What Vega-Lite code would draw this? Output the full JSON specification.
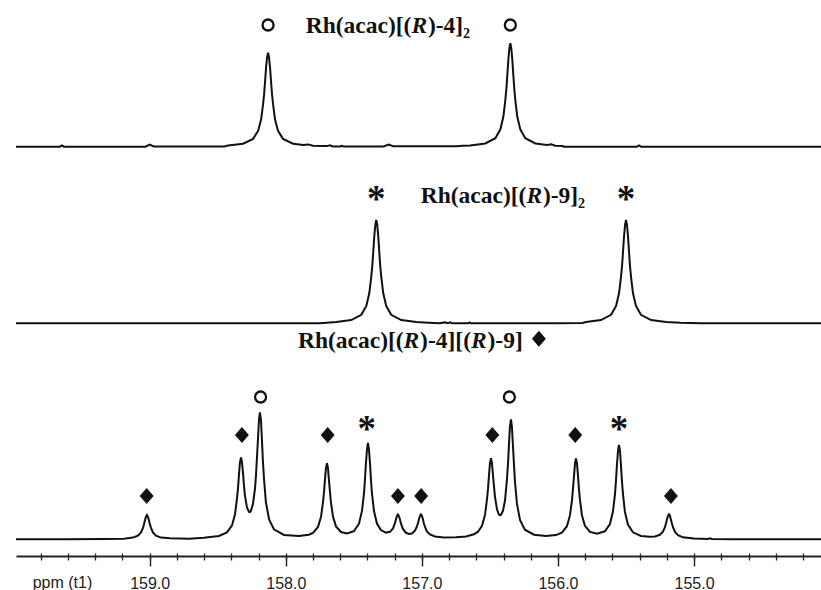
{
  "$schema": "https://vega.github.io/schema/vega-lite/v6.json",
  "padding": {"left": 12, "right": 0, "top": 0, "bottom": 0},
  "background": "white",
  "spacing": 0,
  "bounds": "flush",
  "config": {"view": {"stroke": null}, "concat": {"spacing": 0}},
  "datasets": {
    "top": [
      {"ppm":159.982,"i":0},{"ppm":159.66,"i":0},{"ppm":159.645,"i":1.3},{"ppm":159.63,"i":0},
      {"ppm":159.03,"i":0},{"ppm":159.0,"i":2},{"ppm":158.97,"i":0.3},{"ppm":158.45,"i":0.3},
      {"ppm":158.424,"i":1.2},{"ppm":158.314,"i":2.95},{"ppm":158.24,"i":7.8},{"ppm":158.203,"i":15.8},
      {"ppm":158.181,"i":27.4},{"ppm":158.167,"i":42},{"ppm":158.159,"i":52.5},{"ppm":158.152,"i":65},
      {"ppm":158.145,"i":78.5},{"ppm":158.137,"i":89.6},{"ppm":158.13,"i":94},{"ppm":158.123,"i":89.6},
      {"ppm":158.115,"i":78.5},{"ppm":158.108,"i":65},{"ppm":158.101,"i":52.5},{"ppm":158.093,"i":42},
      {"ppm":158.079,"i":27.4},{"ppm":158.057,"i":15.8},{"ppm":158.02,"i":7.8},{"ppm":157.946,"i":2.95},
      {"ppm":157.87,"i":1.6},{"ppm":157.836,"i":2.3},{"ppm":157.80,"i":1.0},{"ppm":157.70,"i":0.6},
      {"ppm":157.675,"i":1.4},{"ppm":157.655,"i":0.3},{"ppm":157.60,"i":0.2},{"ppm":157.59,"i":0.9},
      {"ppm":157.575,"i":0.2},{"ppm":157.28,"i":0.3},{"ppm":157.245,"i":2.2},{"ppm":157.21,"i":0.5},
      {"ppm":156.75,"i":0.5},{"ppm":156.70,"i":1.0},{"ppm":156.644,"i":1.3},{"ppm":156.534,"i":3.25},
      {"ppm":156.46,"i":8.5},{"ppm":156.423,"i":17.4},{"ppm":156.401,"i":30.2},{"ppm":156.387,"i":46.2},
      {"ppm":156.379,"i":57.8},{"ppm":156.372,"i":71.6},{"ppm":156.365,"i":86.3},{"ppm":156.357,"i":98.5},
      {"ppm":156.35,"i":103.4},{"ppm":156.343,"i":98.5},{"ppm":156.335,"i":86.3},{"ppm":156.328,"i":71.6},
      {"ppm":156.321,"i":57.8},{"ppm":156.313,"i":46.2},{"ppm":156.299,"i":30.2},{"ppm":156.277,"i":17.4},
      {"ppm":156.24,"i":8.5},{"ppm":156.166,"i":3.25},{"ppm":156.08,"i":1.6},{"ppm":156.05,"i":2.4},
      {"ppm":156.02,"i":1.0},{"ppm":155.965,"i":0.6},{"ppm":155.955,"i":0},{"ppm":155.42,"i":0},
      {"ppm":155.405,"i":1.2},{"ppm":155.39,"i":0},{"ppm":154.038,"i":0}
    ],
    "mid": [
      {"ppm":159.982,"i":0},{"ppm":157.75,"i":0},{"ppm":157.629,"i":1.29},{"ppm":157.519,"i":3.24},
      {"ppm":157.445,"i":8.5},{"ppm":157.408,"i":17.4},{"ppm":157.386,"i":30.2},{"ppm":157.372,"i":46.2},
      {"ppm":157.364,"i":57.7},{"ppm":157.357,"i":71.5},{"ppm":157.35,"i":86.3},{"ppm":157.342,"i":98.4},
      {"ppm":157.335,"i":103.3},{"ppm":157.328,"i":98.4},{"ppm":157.32,"i":86.3},{"ppm":157.313,"i":71.5},
      {"ppm":157.306,"i":57.7},{"ppm":157.298,"i":46.2},{"ppm":157.284,"i":30.2},{"ppm":157.262,"i":17.4},
      {"ppm":157.225,"i":8.5},{"ppm":157.151,"i":3.24},{"ppm":157.041,"i":1.29},{"ppm":156.95,"i":0.6},
      {"ppm":156.87,"i":0},{"ppm":156.83,"i":0.9},{"ppm":156.81,"i":0},{"ppm":156.79,"i":0.9},
      {"ppm":156.78,"i":0},{"ppm":156.66,"i":0},{"ppm":156.65,"i":0.9},{"ppm":156.64,"i":0},
      {"ppm":156.0,"i":0},{"ppm":155.82,"i":0.3},{"ppm":155.794,"i":1.29},{"ppm":155.684,"i":3.24},
      {"ppm":155.61,"i":8.5},{"ppm":155.573,"i":17.4},{"ppm":155.551,"i":30.2},{"ppm":155.537,"i":46.2},
      {"ppm":155.529,"i":57.7},{"ppm":155.522,"i":71.5},{"ppm":155.515,"i":86.3},{"ppm":155.507,"i":98.4},
      {"ppm":155.50,"i":103.3},{"ppm":155.493,"i":98.4},{"ppm":155.485,"i":86.3},{"ppm":155.478,"i":71.5},
      {"ppm":155.471,"i":57.7},{"ppm":155.463,"i":46.2},{"ppm":155.449,"i":30.2},{"ppm":155.427,"i":17.4},
      {"ppm":155.39,"i":8.5},{"ppm":155.316,"i":3.24},{"ppm":155.206,"i":1.29},{"ppm":155.10,"i":0.5},
      {"ppm":154.95,"i":0},{"ppm":154.038,"i":0}
    ],
    "bot": [
      {"ppm":159.982,"i":0},{"ppm":159.630,"i":0},{"ppm":159.336,"i":0.2},{"ppm":159.189,"i":0.6},
      {"ppm":159.123,"i":1.7},{"ppm":159.086,"i":3.7},{"ppm":159.064,"i":6.9},{"ppm":159.049,"i":11.5},
      {"ppm":159.042,"i":14.9},{"ppm":159.035,"i":18.9},{"ppm":159.027,"i":22.6},{"ppm":159.020,"i":24.3},
      {"ppm":159.013,"i":22.6},{"ppm":159.005,"i":18.9},{"ppm":158.998,"i":14.9},{"ppm":158.990,"i":11.5},
      {"ppm":158.976,"i":6.9},{"ppm":158.954,"i":3.7},{"ppm":158.917,"i":1.7},{"ppm":158.851,"i":1.0},
      {"ppm":158.711,"i":0.6},{"ppm":158.601,"i":1.5},{"ppm":158.491,"i":3.3},{"ppm":158.432,"i":6.9},
      {"ppm":158.395,"i":13.9},{"ppm":158.373,"i":24.8},{"ppm":158.359,"i":39.8},{"ppm":158.351,"i":51.0},
      {"ppm":158.344,"i":64.2},{"ppm":158.337,"i":76.3},{"ppm":158.329,"i":81.8},{"ppm":158.322,"i":77.3},
      {"ppm":158.314,"i":66.2},{"ppm":158.307,"i":54.0},{"ppm":158.300,"i":44.0},{"ppm":158.285,"i":31.8},
      {"ppm":158.270,"i":27.4},{"ppm":158.263,"i":27.2},{"ppm":158.256,"i":28.4},{"ppm":158.241,"i":35.3},
      {"ppm":158.226,"i":50.7},{"ppm":158.219,"i":63.4},{"ppm":158.212,"i":80.5},{"ppm":158.204,"i":100.8},
      {"ppm":158.197,"i":119.3},{"ppm":158.190,"i":126.9},{"ppm":158.182,"i":118.7},{"ppm":158.175,"i":99.5},
      {"ppm":158.168,"i":78.6},{"ppm":158.160,"i":60.8},{"ppm":158.146,"i":37.2},{"ppm":158.123,"i":20.1},
      {"ppm":158.087,"i":9.9},{"ppm":158.013,"i":4.4},{"ppm":157.903,"i":3.2},{"ppm":157.830,"i":4.6},
      {"ppm":157.800,"i":6.4},{"ppm":157.763,"i":12.4},{"ppm":157.741,"i":22.4},{"ppm":157.727,"i":36.5},
      {"ppm":157.719,"i":47.1},{"ppm":157.712,"i":59.5},{"ppm":157.705,"i":70.9},{"ppm":157.697,"i":76.0},
      {"ppm":157.690,"i":71.2},{"ppm":157.683,"i":59.8},{"ppm":157.675,"i":47.4},{"ppm":157.668,"i":36.9},
      {"ppm":157.653,"i":22.7},{"ppm":157.631,"i":12.9},{"ppm":157.594,"i":7.3},{"ppm":157.550,"i":5.9},
      {"ppm":157.499,"i":8.2},{"ppm":157.462,"i":15.6},{"ppm":157.440,"i":28.4},{"ppm":157.425,"i":46.3},
      {"ppm":157.418,"i":59.8},{"ppm":157.411,"i":75.7},{"ppm":157.403,"i":90.2},{"ppm":157.396,"i":96.4},
      {"ppm":157.389,"i":90.2},{"ppm":157.381,"i":75.7},{"ppm":157.374,"i":59.8},{"ppm":157.367,"i":46.3},
      {"ppm":157.352,"i":28.5},{"ppm":157.330,"i":15.7},{"ppm":157.301,"i":9.2},{"ppm":157.264,"i":6.7},
      {"ppm":157.234,"i":7.5},{"ppm":157.212,"i":10.9},{"ppm":157.198,"i":16.2},{"ppm":157.190,"i":19.9},
      {"ppm":157.183,"i":23.3},{"ppm":157.176,"i":24.7},{"ppm":157.168,"i":23.2},{"ppm":157.161,"i":19.7},
      {"ppm":157.154,"i":15.9},{"ppm":157.139,"i":10.4},{"ppm":157.117,"i":6.5},{"ppm":157.095,"i":5.4},
      {"ppm":157.073,"i":5.8},{"ppm":157.051,"i":8.7},{"ppm":157.036,"i":12.8},{"ppm":157.029,"i":16.1},
      {"ppm":157.021,"i":20.0},{"ppm":157.014,"i":23.5},{"ppm":157.007,"i":24.9},{"ppm":156.999,"i":23.4},
      {"ppm":156.992,"i":19.8},{"ppm":156.985,"i":15.7},{"ppm":156.977,"i":12.4},{"ppm":156.963,"i":7.9},
      {"ppm":156.941,"i":4.8},{"ppm":156.904,"i":2.8},{"ppm":156.838,"i":1.9},{"ppm":156.749,"i":2.0},
      {"ppm":156.676,"i":2.8},{"ppm":156.617,"i":5.0},{"ppm":156.588,"i":7.6},{"ppm":156.558,"i":13.6},
      {"ppm":156.536,"i":24.4},{"ppm":156.522,"i":39.3},{"ppm":156.514,"i":50.4},{"ppm":156.507,"i":63.4},
      {"ppm":156.500,"i":75.5},{"ppm":156.492,"i":81.1},{"ppm":156.485,"i":76.3},{"ppm":156.478,"i":65.1},
      {"ppm":156.470,"i":52.9},{"ppm":156.463,"i":42.7},{"ppm":156.448,"i":30.0},{"ppm":156.434,"i":24.8},
      {"ppm":156.426,"i":24.1},{"ppm":156.419,"i":24.4},{"ppm":156.404,"i":28.5},{"ppm":156.389,"i":38.8},
      {"ppm":156.375,"i":59.6},{"ppm":156.367,"i":75.8},{"ppm":156.360,"i":94.9},{"ppm":156.353,"i":112.4},
      {"ppm":156.345,"i":119.9},{"ppm":156.338,"i":112.1},{"ppm":156.331,"i":94.1},{"ppm":156.323,"i":74.4},
      {"ppm":156.316,"i":57.7},{"ppm":156.301,"i":35.4},{"ppm":156.279,"i":19.4},{"ppm":156.243,"i":9.6},
      {"ppm":156.176,"i":4.6},{"ppm":156.088,"i":3.2},{"ppm":156.015,"i":4.2},{"ppm":155.971,"i":6.7},
      {"ppm":155.934,"i":13.1},{"ppm":155.912,"i":23.9},{"ppm":155.897,"i":38.9},{"ppm":155.890,"i":50.2},
      {"ppm":155.882,"i":63.5},{"ppm":155.875,"i":75.6},{"ppm":155.868,"i":80.9},{"ppm":155.860,"i":75.7},
      {"ppm":155.853,"i":63.6},{"ppm":155.846,"i":50.3},{"ppm":155.838,"i":39.1},{"ppm":155.824,"i":24.1},
      {"ppm":155.802,"i":13.5},{"ppm":155.765,"i":7.4},{"ppm":155.713,"i":5.5},{"ppm":155.655,"i":8.0},
      {"ppm":155.618,"i":15.2},{"ppm":155.596,"i":27.7},{"ppm":155.581,"i":45.2},{"ppm":155.574,"i":58.3},
      {"ppm":155.567,"i":73.9},{"ppm":155.559,"i":88.1},{"ppm":155.552,"i":94.3},{"ppm":155.544,"i":88.0},
      {"ppm":155.537,"i":73.8},{"ppm":155.530,"i":58.2},{"ppm":155.522,"i":45.0},{"ppm":155.508,"i":27.4},
      {"ppm":155.486,"i":14.7},{"ppm":155.449,"i":7.0},{"ppm":155.390,"i":3.4},{"ppm":155.324,"i":2.5},
      {"ppm":155.287,"i":2.9},{"ppm":155.251,"i":4.5},{"ppm":155.229,"i":7.7},{"ppm":155.214,"i":12.2},
      {"ppm":155.207,"i":15.6},{"ppm":155.199,"i":19.7},{"ppm":155.192,"i":23.4},{"ppm":155.184,"i":24.9},
      {"ppm":155.177,"i":23.3},{"ppm":155.170,"i":19.6},{"ppm":155.162,"i":15.5},{"ppm":155.155,"i":12.1},
      {"ppm":155.140,"i":7.4},{"ppm":155.118,"i":4.1},{"ppm":155.082,"i":2.0},{"ppm":155.001,"i":0.8},
      {"ppm":154.898,"i":0.4},{"ppm":154.883,"i":1.1},{"ppm":154.869,"i":0.3},{"ppm":154.707,"i":0.1},
      {"ppm":154.038,"i":0}
    ],
    "marks": [
      {"panel":"top","ppm":158.13,"sym":"circle","h":94},
      {"panel":"top","ppm":156.35,"sym":"circle","h":103.4},
      {"panel":"mid","ppm":157.335,"sym":"asterisk","h":103.3},
      {"panel":"mid","ppm":155.50,"sym":"asterisk","h":103.3},
      {"panel":"bot","ppm":158.185,"sym":"circle","h":126.9},
      {"panel":"bot","ppm":156.357,"sym":"circle","h":119.9},
      {"panel":"bot","ppm":157.405,"sym":"asterisk","h":96.4},
      {"panel":"bot","ppm":155.552,"sym":"asterisk","h":94.3},
      {"panel":"bot","ppm":158.322,"sym":"diamond","h":81.8},
      {"panel":"bot","ppm":157.692,"sym":"diamond","h":76.0},
      {"panel":"bot","ppm":156.482,"sym":"diamond","h":81.1},
      {"panel":"bot","ppm":155.873,"sym":"diamond","h":80.9},
      {"panel":"bot","ppm":159.022,"sym":"diamond","h":24.3},
      {"panel":"bot","ppm":157.176,"sym":"diamond","h":24.7},
      {"panel":"bot","ppm":157.005,"sym":"diamond","h":24.9},
      {"panel":"bot","ppm":155.170,"sym":"diamond","h":24.9}
    ]
  },
  "vconcat": [
    {
      "width": 809, "height": 150,
      "layer": [
        {
          "data": {"name": "top"},
          "mark": {"type": "line", "color": "#111111", "strokeWidth": 2},
          "encoding": {
            "x": {"field": "ppm", "type": "quantitative", "scale": {"domain": [154.038, 159.982], "reverse": true, "nice": false, "zero": false}, "axis": null},
            "y": {"field": "i", "type": "quantitative", "scale": {"domain": [-3.3, 146.7], "nice": false, "zero": false}, "axis": null}
          }
        },
        {
          "data": {"name": "marks"},
          "transform": [{"filter": "datum.panel == 'top' && datum.sym == 'circle'"}],
          "mark": {"type": "point", "shape": "circle", "filled": false, "stroke": "#111111", "strokeWidth": 2.3, "size": 121, "opacity": 1},
          "encoding": {"x": {"field": "ppm", "type": "quantitative", "axis": null}, "y": {"datum": 121.7}}
        },
        {
          "data": {"values": [{"t": "Rh(acac)[("}]},
          "mark": {"type": "text", "font": "Liberation Serif", "fontWeight": "bold", "fontSize": 23.5, "align": "right", "baseline": "alphabetic", "dy": 7.8, "color": "#111111"},
          "encoding": {"text": {"field": "t"}, "x": {"datum": 157.077}, "y": {"datum": 121.7}}
        },
        {
          "data": {"values": [{"t": "R"}]},
          "mark": {"type": "text", "font": "Liberation Serif", "fontWeight": "bold", "fontStyle": "italic", "fontSize": 23.5, "align": "left", "baseline": "alphabetic", "dy": 7.8, "color": "#111111"},
          "encoding": {"text": {"field": "t"}, "x": {"datum": 157.077}, "y": {"datum": 121.7}}
        },
        {
          "data": {"values": [{"t": ")-4]₂"}]},
          "mark": {"type": "text", "font": "Liberation Serif", "fontWeight": "bold", "fontSize": 23.5, "align": "left", "baseline": "alphabetic", "dy": 7.8, "dx": 16.5, "color": "#111111"},
          "encoding": {"text": {"field": "t"}, "x": {"datum": 157.077}, "y": {"datum": 121.7}}
        }
      ]
    },
    {
      "width": 809, "height": 180,
      "layer": [
        {
          "data": {"name": "mid"},
          "mark": {"type": "line", "color": "#111111", "strokeWidth": 2},
          "encoding": {
            "x": {"field": "ppm", "type": "quantitative", "scale": {"domain": [154.038, 159.982], "reverse": true, "nice": false, "zero": false}, "axis": null},
            "y": {"field": "i", "type": "quantitative", "scale": {"domain": [-6.7, 173.3], "nice": false, "zero": false}, "axis": null}
          }
        },
        {
          "data": {"name": "marks"},
          "transform": [{"filter": "datum.panel == 'mid' && datum.sym == 'asterisk'"}],
          "mark": {"type": "text", "text": "*", "font": "Liberation Serif", "fontWeight": "bold", "fontSize": 37, "align": "center", "baseline": "alphabetic", "dy": 15.6, "color": "#111111"},
          "encoding": {"x": {"field": "ppm", "type": "quantitative", "axis": null}, "y": {"datum": 128.3}}
        },
        {
          "data": {"values": [{"t": "Rh(acac)[("}]},
          "mark": {"type": "text", "font": "Liberation Serif", "fontWeight": "bold", "fontSize": 23.5, "align": "right", "baseline": "alphabetic", "dy": 7.8, "color": "#111111"},
          "encoding": {"text": {"field": "t"}, "x": {"datum": 156.232}, "y": {"datum": 128.3}}
        },
        {
          "data": {"values": [{"t": "R"}]},
          "mark": {"type": "text", "font": "Liberation Serif", "fontWeight": "bold", "fontStyle": "italic", "fontSize": 23.5, "align": "left", "baseline": "alphabetic", "dy": 7.8, "color": "#111111"},
          "encoding": {"text": {"field": "t"}, "x": {"datum": 156.232}, "y": {"datum": 128.3}}
        },
        {
          "data": {"values": [{"t": ")-9]₂"}]},
          "mark": {"type": "text", "font": "Liberation Serif", "fontWeight": "bold", "fontSize": 23.5, "align": "left", "baseline": "alphabetic", "dy": 7.8, "dx": 16.5, "color": "#111111"},
          "encoding": {"text": {"field": "t"}, "x": {"datum": 156.232}, "y": {"datum": 128.3}}
        }
      ]
    },
    {
      "width": 809, "height": 226,
      "resolve": {"axis": {"x": "independent"}},
      "layer": [
        {
          "data": {"name": "bot"},
          "mark": {"type": "line", "color": "#111111", "strokeWidth": 2},
          "encoding": {
            "x": {"field": "ppm", "type": "quantitative", "scale": {"domain": [154.038, 159.982], "reverse": true, "nice": false, "zero": false},
                  "axis": {"orient": "bottom", "values": [154.2,154.4,154.6,154.8,155.0,155.2,155.4,155.6,155.8,156.0,156.2,156.4,156.6,156.8,157.0,157.2,157.4,157.6,157.8,158.0,158.2,158.4,158.6,158.8,159.0,159.2,159.4,159.6,159.8],
                           "tickSize": 4, "tickWidth": 1.3, "tickColor": "#222222", "labels": false, "domain": true, "domainWidth": 2.2, "domainColor": "#222222", "grid": false, "title": null}},
            "y": {"field": "i", "type": "quantitative", "scale": {"domain": [-16.7, 209.3], "nice": false, "zero": false}, "axis": null}
          }
        },
        {
          "data": {"name": "marks"},
          "transform": [{"filter": "datum.panel == 'bot' && datum.sym == 'circle'"}],
          "mark": {"type": "point", "shape": "circle", "filled": false, "stroke": "#111111", "strokeWidth": 2.3, "size": 121, "opacity": 1},
          "encoding": {
            "x": {"field": "ppm", "type": "quantitative",
                  "axis": {"orient": "bottom", "values": [155, 156, 157, 158, 159], "format": ".1f", "tickSize": 10, "tickWidth": 1.4, "tickColor": "#222222", "domain": false, "grid": false,
                           "labelFont": "Liberation Sans", "labelFontSize": 16, "labelColor": "#222222", "labelPadding": 9, "labelFlush": false, "labelOverlap": false,
                           "title": "ppm (t1)", "titleFont": "Liberation Sans", "titleFontSize": 16, "titleFontWeight": "normal", "titleColor": "#222222",
                           "titleX": 46, "titleY": 26, "titleAlign": "center", "titleBaseline": "middle", "titleAngle": 0}},
            "y": {"datum": 142.3}
          }
        },
        {
          "data": {"name": "marks"},
          "transform": [{"filter": "datum.panel == 'bot' && datum.sym == 'asterisk'"}],
          "mark": {"type": "text", "text": "*", "font": "Liberation Serif", "fontWeight": "bold", "fontSize": 37, "align": "center", "baseline": "alphabetic", "dy": 15.6, "color": "#111111"},
          "encoding": {
            "x": {"field": "ppm", "type": "quantitative",
                  "axis": {"orient": "bottom", "values": [154.2,154.4,154.6,154.8,155.0,155.2,155.4,155.6,155.8,156.0,156.2,156.4,156.6,156.8,157.0,157.2,157.4,157.6,157.8,158.0,158.2,158.4,158.6,158.8,159.0,159.2,159.4,159.6,159.8],
                           "tickSize": -3, "tickWidth": 1.3, "tickColor": "#222222", "labels": false, "domain": false, "grid": false, "title": null}},
            "y": {"datum": 113.8}
          }
        },
        {
          "data": {"name": "marks"},
          "transform": [{"filter": "datum.panel == 'bot' && datum.sym == 'diamond' && datum.h > 50"}],
          "mark": {"type": "point", "shape": "M0,-1L0.87,0L0,1L-0.87,0Z", "filled": true, "fill": "#111111", "strokeWidth": 0, "size": 256, "opacity": 1},
          "encoding": {"x": {"field": "ppm", "type": "quantitative", "axis": null}, "y": {"datum": 104.3}}
        },
        {
          "data": {"name": "marks"},
          "transform": [{"filter": "datum.panel == 'bot' && datum.sym == 'diamond' && datum.h < 50"}],
          "mark": {"type": "point", "shape": "M0,-1L0.87,0L0,1L-0.87,0Z", "filled": true, "fill": "#111111", "strokeWidth": 0, "size": 256, "opacity": 1},
          "encoding": {"x": {"field": "ppm", "type": "quantitative", "axis": null}, "y": {"datum": 43.3}}
        },
        {
          "data": {"values": [{"t": "Rh(acac)[("}]},
          "mark": {"type": "text", "font": "Liberation Serif", "fontWeight": "bold", "fontSize": 23.5, "align": "right", "baseline": "alphabetic", "dy": 7.8, "color": "#111111"},
          "encoding": {"text": {"field": "t"}, "x": {"datum": 157.134, "axis": null}, "y": {"datum": 199.3}}
        },
        {
          "data": {"values": [{"t": "R"}]},
          "mark": {"type": "text", "font": "Liberation Serif", "fontWeight": "bold", "fontStyle": "italic", "fontSize": 23.5, "align": "left", "baseline": "alphabetic", "dy": 7.8, "color": "#111111"},
          "encoding": {"text": {"field": "t"}, "x": {"datum": 157.134, "axis": null}, "y": {"datum": 199.3}}
        },
        {
          "data": {"values": [{"t": ")-4][("}]},
          "mark": {"type": "text", "font": "Liberation Serif", "fontWeight": "bold", "fontSize": 23.5, "align": "left", "baseline": "alphabetic", "dy": 7.8, "dx": 16.5, "color": "#111111"},
          "encoding": {"text": {"field": "t"}, "x": {"datum": 157.134, "axis": null}, "y": {"datum": 199.3}}
        },
        {
          "data": {"values": [{"t": "R"}]},
          "mark": {"type": "text", "font": "Liberation Serif", "fontWeight": "bold", "fontStyle": "italic", "fontSize": 23.5, "align": "left", "baseline": "alphabetic", "dy": 7.8, "dx": 67.4, "color": "#111111"},
          "encoding": {"text": {"field": "t"}, "x": {"datum": 157.134, "axis": null}, "y": {"datum": 199.3}}
        },
        {
          "data": {"values": [{"t": ")-9]"}]},
          "mark": {"type": "text", "font": "Liberation Serif", "fontWeight": "bold", "fontSize": 23.5, "align": "left", "baseline": "alphabetic", "dy": 7.8, "dx": 83.9, "color": "#111111"},
          "encoding": {"text": {"field": "t"}, "x": {"datum": 157.134, "axis": null}, "y": {"datum": 199.3}}
        },
        {
          "data": {"values": [{"t": "legend"}]},
          "mark": {"type": "point", "shape": "M0,-1L0.87,0L0,1L-0.87,0Z", "filled": true, "fill": "#111111", "strokeWidth": 0, "size": 256, "opacity": 1},
          "encoding": {"x": {"datum": 156.14, "axis": null}, "y": {"datum": 200.5}}
        }
      ]
    }
  ]
}
